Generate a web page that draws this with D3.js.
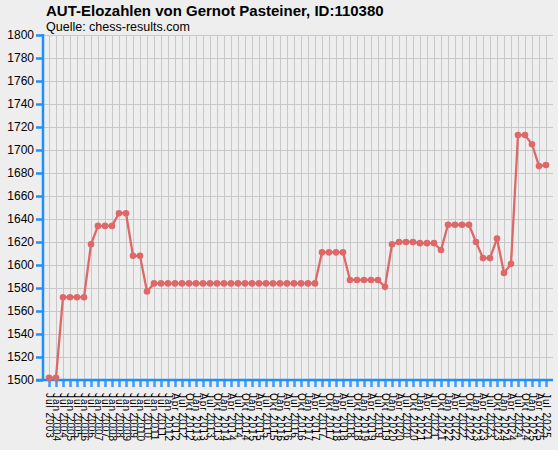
<!DOCTYPE html>
<html>
<head>
<meta charset="utf-8">
<script src="https://cdn.jsdelivr.net/npm/d3@7"></script>
<style>
  body { margin: 0; background: #eeeeee; }
  svg { display: block; font-family: "Liberation Sans", Arial, sans-serif; }
</style>
</head>
<body>
<div id="chart"></div>
<script>
// Rating list dates (half-yearly until 2012, then quarterly)
const listDates = [
  "Jul 2003", "Jan 2004", "Jul 2004", "Jan 2005", "Jul 2005", "Jan 2006",
  "Jul 2006", "Jan 2007", "Jul 2007", "Jan 2008", "Jul 2008", "Jan 2009",
  "Jul 2009", "Jan 2010", "Jul 2010", "Jan 2011", "Jul 2011", "Jan 2012",
  "Apr 2012", "Jul 2012", "Okt 2012",
  "Jan 2013", "Apr 2013", "Jul 2013", "Okt 2013",
  "Jan 2014", "Apr 2014", "Jul 2014", "Okt 2014",
  "Jan 2015", "Apr 2015", "Jul 2015", "Okt 2015",
  "Jan 2016", "Apr 2016", "Jul 2016", "Okt 2016",
  "Jan 2017", "Apr 2017", "Jul 2017", "Okt 2017",
  "Jan 2018", "Apr 2018", "Jul 2018", "Okt 2018",
  "Jan 2019", "Apr 2019", "Jul 2019", "Okt 2019",
  "Jan 2020", "Apr 2020", "Jul 2020", "Okt 2020",
  "Jan 2021", "Apr 2021", "Jul 2021", "Okt 2021",
  "Jan 2022", "Apr 2022", "Jul 2022", "Okt 2022",
  "Jan 2023", "Apr 2023", "Jul 2023", "Okt 2023",
  "Jan 2024", "Apr 2024", "Jul 2024", "Okt 2024",
  "Jan 2025", "Apr 2025", "Jul 2025"
];

// Elo value per list
const eloValues = [
  1502, 1502, 1572, 1572, 1572, 1572, 1618, 1634, 1634, 1634, 1645, 1645,
  1608, 1608, 1577, 1584, 1584, 1584, 1584, 1584, 1584, 1584, 1584, 1584,
  1584, 1584, 1584, 1584, 1584, 1584, 1584, 1584, 1584, 1584, 1584, 1584,
  1584, 1584, 1584, 1611, 1611, 1611, 1611, 1587, 1587, 1587, 1587, 1587,
  1581, 1618, 1620, 1620, 1620, 1619, 1619, 1619, 1613, 1635, 1635, 1635,
  1635, 1620, 1606, 1606, 1623, 1593, 1601, 1713, 1713, 1705, 1686, 1687
];

const yTicks = [1500, 1520, 1540, 1560, 1580, 1600, 1620, 1640, 1660, 1680,
  1700, 1720, 1740, 1760, 1780, 1800];

const titleText = "AUT-Elozahlen von Gernot Pasteiner, ID:110380";
const sourceText = "Quelle: chess-results.com";

const width = 558, height = 450;
const plotLeft = 43, plotRight = 553, plotTop = 35, plotBottom = 380;
const axisBlue = "#1f8fff";
const lineRed = "#de6868";

const svg = d3.select("#chart").append("svg")
  .attr("width", width)
  .attr("height", height);

svg.append("rect")
  .attr("width", width)
  .attr("height", height)
  .attr("fill", "#eeeeee");

const data = listDates.map((d, i) => ({ date: d, elo: eloValues[i] }));

const x = d3.scalePoint()
  .domain(listDates)
  .range([plotLeft - 1, plotRight])
  .padding(1);

const y = d3.scaleLinear()
  .domain([1500, 1800])
  .range([plotBottom, plotTop]);

// grid
svg.append("g")
  .selectAll("line")
  .data(listDates)
  .enter().append("line")
  .attr("x1", d => x(d) + 0.5)
  .attr("x2", d => x(d) + 0.5)
  .attr("y1", plotTop)
  .attr("y2", plotBottom)
  .attr("stroke", "#c8c8c8")
  .attr("stroke-width", 1);

svg.append("g")
  .selectAll("line")
  .data(yTicks.slice(1))
  .enter().append("line")
  .attr("x1", plotLeft)
  .attr("x2", plotRight)
  .attr("y1", d => Math.round(y(d)) + 0.5)
  .attr("y2", d => Math.round(y(d)) + 0.5)
  .attr("stroke", "#c8c8c8")
  .attr("stroke-width", 1);

// y axis
const yAxis = svg.append("g")
  .attr("transform", `translate(${plotLeft},0)`)
  .call(d3.axisLeft(y).tickValues(yTicks).tickSize(7).tickPadding(2).tickFormat(d3.format("d")));
yAxis.select(".domain").remove();
yAxis.selectAll(".tick line")
  .attr("stroke", axisBlue)
  .attr("stroke-width", 2.5);
yAxis.selectAll(".tick text")
  .attr("fill", "#000")
  .style("font-size", "12px");
yAxis.append("line")
  .attr("x1", 0).attr("x2", 0)
  .attr("y1", plotTop - 1).attr("y2", plotBottom + 1)
  .attr("stroke", axisBlue)
  .attr("stroke-width", 2.5);

// x axis
const xAxis = svg.append("g")
  .attr("transform", `translate(0,${plotBottom})`)
  .call(d3.axisBottom(x).tickSize(7).tickPadding(0));
xAxis.select(".domain").remove();
xAxis.selectAll(".tick line")
  .attr("stroke", "#3a9cff")
  .attr("stroke-width", 2.5);
xAxis.selectAll(".tick text")
  .attr("fill", "#000")
  .style("font-size", "10px")
  .style("letter-spacing", "1px")
  .attr("text-anchor", "start")
  .attr("transform", "translate(0,13) rotate(90)")
  .attr("x", 0)
  .attr("y", 0)
  .attr("dy", "0.35em");
xAxis.append("line")
  .attr("x1", plotLeft - 7).attr("x2", plotRight)
  .attr("y1", 0).attr("y2", 0)
  .attr("stroke", axisBlue)
  .attr("stroke-width", 2.5);

// rating line
const line = d3.line()
  .x(d => x(d.date))
  .y(d => y(d.elo));

svg.append("path")
  .datum(data)
  .attr("fill", "none")
  .attr("stroke", lineRed)
  .attr("stroke-width", 2.3)
  .attr("d", line);

svg.append("g")
  .selectAll("circle")
  .data(data)
  .enter().append("circle")
  .attr("cx", d => x(d.date))
  .attr("cy", d => y(d.elo))
  .attr("r", 3.3)
  .attr("fill", lineRed);

// titles
svg.append("text")
  .attr("x", 46)
  .attr("y", 16)
  .style("font-size", "15px")
  .style("font-weight", "bold")
  .text(titleText);

svg.append("text")
  .attr("x", 46)
  .attr("y", 31)
  .style("font-size", "12.5px")
  .text(sourceText);
</script>
</body>
</html>
